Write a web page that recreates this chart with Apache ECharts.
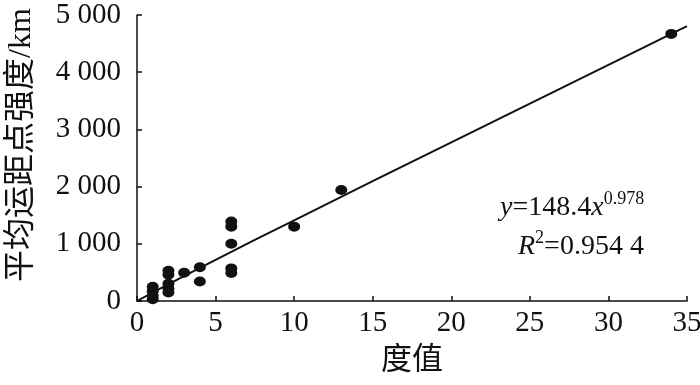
<!DOCTYPE html>
<html><head><meta charset="utf-8">
<script src="https://cdn.jsdelivr.net/npm/echarts@6/dist/echarts.min.js"></script>
<style>html,body{margin:0;padding:0;background:#fff}#c{width:700px;height:385px}</style>
</head><body><div id="c"></div>
<script>
// degree values and mean transport distance intensity (km)
var degree = [1, 1, 1, 1, 2, 2, 2, 2, 2, 3, 4, 4, 6, 6, 6, 6, 6, 10, 13, 34];
var intensity = [250, 170, 90, 30, 530, 460, 300, 220, 150, 495, 590, 340, 1390, 1300, 1000, 570, 490, 1300, 1940, 4670];
// fitted curve (y = 148.4 x^0.978)
var fitX = [0, 1, 5, 10, 20, 35];
var fitY = [0, 148, 718, 1411, 2773, 4804];
var xTicks = [0, 5, 10, 15, 20, 25, 30, 35];
var yTicks = [0, 1000, 2000, 3000, 4000, 5000];

var pts = degree.map(function (d, i) { return [d, intensity[i]]; });
var fit = fitX.map(function (d, i) { return [d, fitY[i]]; });
var serif = '"Liberation Serif", "Noto Sans CJK SC", serif';

var chart = echarts.init(document.getElementById('c'));
chart.setOption({
  animation: false,
  backgroundColor: '#fff',
  grid: { left: 137, right: 13, top: 15, bottom: 84, containLabel: false, outerBoundsMode: 'none' },
  xAxis: {
    type: 'value', min: 0, max: 35, interval: 5,
    name: '度值', nameLocation: 'middle', nameGap: 44,
    nameTextStyle: { fontFamily: serif, fontSize: 31, color: '#111' },
    axisLine: { show: true, lineStyle: { color: '#111', width: 1.5 } },
    axisTick: { show: true, inside: true, length: 5, lineStyle: { color: '#111', width: 1.5 } },
    axisLabel: { fontFamily: serif, fontSize: 29, color: '#111', margin: 8,
      formatter: function (v) { return xTicks.indexOf(v) >= 0 ? String(v) : ''; } },
    splitLine: { show: false }
  },
  yAxis: {
    type: 'value', min: 0, max: 5000, interval: 1000,
    name: '平均运距点强度/km', nameLocation: 'middle', nameGap: 99, nameRotate: 90,
    nameTextStyle: { fontFamily: serif, fontSize: 32, color: '#111', padding: [0, 0, 0, 26] },
    axisLine: { show: true, lineStyle: { color: '#111', width: 1.5 } },
    axisTick: { show: true, inside: true, length: 5, lineStyle: { color: '#111', width: 1.5 } },
    axisLabel: { fontFamily: serif, fontSize: 29, color: '#111', margin: 16,
      formatter: function (v) {
        if (yTicks.indexOf(v) < 0) return '';
        return v >= 1000 ? Math.floor(v / 1000) + ' ' + String(v % 1000).padStart(3, '0') : String(v);
      } },
    splitLine: { show: false }
  },
  series: [
    { type: 'line', data: fit, showSymbol: false, symbol: 'none', smooth: true,
      lineStyle: { color: '#111', width: 2 }, z: 2 },
    { type: 'scatter', data: pts, symbol: 'circle', symbolSize: [12, 10],
      itemStyle: { color: '#111', opacity: 1 }, z: 3 }
  ],
  graphic: [
    { type: 'text', left: 500, top: 190, style: {
      text: '{i|y}{n|=148.4}{i|x}{s|0.978}', rich: {
        i: { fontFamily: serif, fontSize: 28, fontStyle: 'italic', fill: '#111', verticalAlign: 'bottom' },
        n: { fontFamily: serif, fontSize: 28, fill: '#111', verticalAlign: 'bottom' },
        s: { fontFamily: serif, fontSize: 18, fill: '#111', verticalAlign: 'top', padding: [0, 0, 14, 0] }
      } } },
    { type: 'text', left: 518, top: 229, style: {
      text: '{i|R}{s|2}{n|=0.954 4}', rich: {
        i: { fontFamily: serif, fontSize: 28, fontStyle: 'italic', fill: '#111', verticalAlign: 'bottom' },
        n: { fontFamily: serif, fontSize: 28, fill: '#111', verticalAlign: 'bottom' },
        s: { fontFamily: serif, fontSize: 18, fill: '#111', verticalAlign: 'top', padding: [0, 0, 14, 0] }
      } } }
  ]
});
</script></body></html>
